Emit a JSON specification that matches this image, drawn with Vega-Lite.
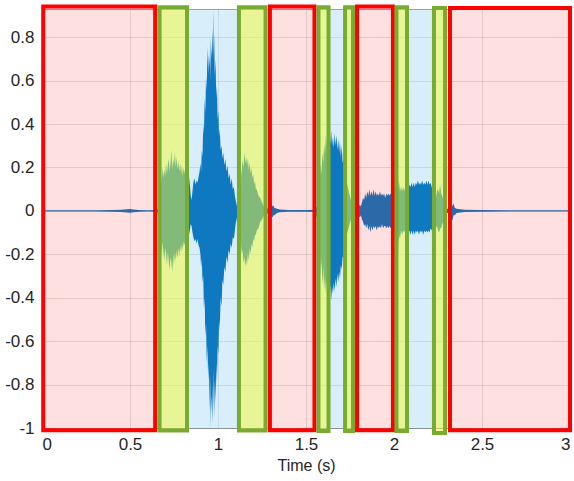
{
  "$schema": "https://vega.github.io/schema/vega-lite/v6.json",
  "width": 528,
  "height": 419,
  "autosize": {"type": "none"},
  "padding": {"left": 42, "top": 9, "right": 4, "bottom": 53},
  "background": "white",
  "config": {
    "view": {"stroke": "#9AA3AC", "strokeWidth": 1},
    "font": "Liberation Sans",
    "axis": {
      "labelFont": "Liberation Sans",
      "titleFont": "Liberation Sans",
      "labelFontSize": 17,
      "titleFontSize": 16,
      "labelColor": "#262626",
      "titleColor": "#262626",
      "titleFontWeight": "normal",
      "gridColor": "#262626",
      "gridOpacity": 0.13,
      "domain": false,
      "ticks": false
    }
  },
  "datasets": {
    "wave": [
      {"t": 0.0, "hi": 0.003, "lo": -0.003},
      {"t": 0.1, "hi": 0.003, "lo": -0.003},
      {"t": 0.2, "hi": 0.003, "lo": -0.003},
      {"t": 0.3, "hi": 0.003, "lo": -0.003},
      {"t": 0.4, "hi": 0.004, "lo": -0.004},
      {"t": 0.45, "hi": 0.005, "lo": -0.005},
      {"t": 0.5, "hi": 0.009, "lo": -0.009},
      {"t": 0.52, "hi": 0.006, "lo": -0.006},
      {"t": 0.55, "hi": 0.004, "lo": -0.004},
      {"t": 0.6, "hi": 0.003, "lo": -0.003},
      {"t": 0.65, "hi": 0.004, "lo": -0.004},
      {"t": 0.66, "hi": 0.01, "lo": -0.01},
      {"t": 0.664, "hi": 0.1, "lo": -0.06},
      {"t": 0.668, "hi": 0.14, "lo": -0.12},
      {"t": 0.672, "hi": 0.1, "lo": -0.09},
      {"t": 0.676, "hi": 0.17, "lo": -0.16},
      {"t": 0.68, "hi": 0.13, "lo": -0.21},
      {"t": 0.685, "hi": 0.2, "lo": -0.14},
      {"t": 0.69, "hi": 0.15, "lo": -0.19},
      {"t": 0.695, "hi": 0.19, "lo": -0.23},
      {"t": 0.7, "hi": 0.16, "lo": -0.17},
      {"t": 0.705, "hi": 0.22, "lo": -0.2},
      {"t": 0.71, "hi": 0.17, "lo": -0.25},
      {"t": 0.715, "hi": 0.21, "lo": -0.19},
      {"t": 0.72, "hi": 0.24, "lo": -0.23},
      {"t": 0.725, "hi": 0.18, "lo": -0.27},
      {"t": 0.73, "hi": 0.22, "lo": -0.21},
      {"t": 0.735, "hi": 0.28, "lo": -0.24},
      {"t": 0.74, "hi": 0.19, "lo": -0.28},
      {"t": 0.745, "hi": 0.24, "lo": -0.2},
      {"t": 0.75, "hi": 0.21, "lo": -0.25},
      {"t": 0.755, "hi": 0.27, "lo": -0.19},
      {"t": 0.76, "hi": 0.2, "lo": -0.23},
      {"t": 0.765, "hi": 0.25, "lo": -0.18},
      {"t": 0.77, "hi": 0.19, "lo": -0.22},
      {"t": 0.775, "hi": 0.23, "lo": -0.17},
      {"t": 0.78, "hi": 0.18, "lo": -0.21},
      {"t": 0.785, "hi": 0.22, "lo": -0.16},
      {"t": 0.79, "hi": 0.17, "lo": -0.19},
      {"t": 0.795, "hi": 0.21, "lo": -0.15},
      {"t": 0.8, "hi": 0.16, "lo": -0.18},
      {"t": 0.805, "hi": 0.2, "lo": -0.14},
      {"t": 0.81, "hi": 0.17, "lo": -0.16},
      {"t": 0.815, "hi": 0.21, "lo": -0.12},
      {"t": 0.82, "hi": 0.18, "lo": -0.14},
      {"t": 0.825, "hi": 0.22, "lo": -0.11},
      {"t": 0.83, "hi": 0.19, "lo": -0.1},
      {"t": 0.835, "hi": 0.16, "lo": -0.11},
      {"t": 0.84, "hi": 0.12, "lo": -0.09},
      {"t": 0.845, "hi": 0.07, "lo": -0.06},
      {"t": 0.85, "hi": 0.05, "lo": -0.07},
      {"t": 0.855, "hi": 0.09, "lo": -0.1},
      {"t": 0.86, "hi": 0.13, "lo": -0.12},
      {"t": 0.866, "hi": 0.15, "lo": -0.14},
      {"t": 0.872, "hi": 0.12, "lo": -0.13},
      {"t": 0.878, "hi": 0.14, "lo": -0.15},
      {"t": 0.884, "hi": 0.13, "lo": -0.13},
      {"t": 0.89, "hi": 0.16, "lo": -0.16},
      {"t": 0.895, "hi": 0.18, "lo": -0.17},
      {"t": 0.9, "hi": 0.22, "lo": -0.2},
      {"t": 0.904, "hi": 0.18, "lo": -0.26},
      {"t": 0.908, "hi": 0.28, "lo": -0.22},
      {"t": 0.912, "hi": 0.25, "lo": -0.33},
      {"t": 0.916, "hi": 0.4, "lo": -0.3},
      {"t": 0.92, "hi": 0.35, "lo": -0.45},
      {"t": 0.924, "hi": 0.52, "lo": -0.4},
      {"t": 0.928, "hi": 0.45, "lo": -0.58},
      {"t": 0.932, "hi": 0.62, "lo": -0.52},
      {"t": 0.936, "hi": 0.55, "lo": -0.7},
      {"t": 0.94, "hi": 0.76, "lo": -0.62},
      {"t": 0.944, "hi": 0.63, "lo": -0.78},
      {"t": 0.948, "hi": 0.72, "lo": -0.7},
      {"t": 0.952, "hi": 0.66, "lo": -0.92},
      {"t": 0.956, "hi": 0.8, "lo": -0.75},
      {"t": 0.958, "hi": 0.6, "lo": -1.0},
      {"t": 0.961, "hi": 0.75, "lo": -0.85},
      {"t": 0.964, "hi": 0.7, "lo": -0.93},
      {"t": 0.967, "hi": 0.84, "lo": -0.8},
      {"t": 0.97, "hi": 0.72, "lo": -0.98},
      {"t": 0.973, "hi": 0.93, "lo": -0.88},
      {"t": 0.975, "hi": 0.7, "lo": -0.72},
      {"t": 0.978, "hi": 0.82, "lo": -0.95},
      {"t": 0.982, "hi": 0.62, "lo": -0.78},
      {"t": 0.986, "hi": 0.7, "lo": -0.88},
      {"t": 0.99, "hi": 0.52, "lo": -0.7},
      {"t": 0.994, "hi": 0.58, "lo": -0.8},
      {"t": 0.998, "hi": 0.42, "lo": -0.62},
      {"t": 1.002, "hi": 0.46, "lo": -0.66},
      {"t": 1.006, "hi": 0.34, "lo": -0.5},
      {"t": 1.01, "hi": 0.38, "lo": -0.55},
      {"t": 1.015, "hi": 0.28, "lo": -0.4},
      {"t": 1.02, "hi": 0.3, "lo": -0.44},
      {"t": 1.025, "hi": 0.24, "lo": -0.32},
      {"t": 1.03, "hi": 0.27, "lo": -0.34},
      {"t": 1.036, "hi": 0.21, "lo": -0.26},
      {"t": 1.042, "hi": 0.24, "lo": -0.28},
      {"t": 1.048, "hi": 0.18, "lo": -0.21},
      {"t": 1.054, "hi": 0.21, "lo": -0.24},
      {"t": 1.06, "hi": 0.15, "lo": -0.18},
      {"t": 1.066, "hi": 0.17, "lo": -0.2},
      {"t": 1.072, "hi": 0.12, "lo": -0.15},
      {"t": 1.078, "hi": 0.15, "lo": -0.17},
      {"t": 1.084, "hi": 0.1, "lo": -0.12},
      {"t": 1.09, "hi": 0.11, "lo": -0.13},
      {"t": 1.096, "hi": 0.07, "lo": -0.09},
      {"t": 1.1, "hi": 0.05, "lo": -0.06},
      {"t": 1.108, "hi": 0.02, "lo": -0.03},
      {"t": 1.115, "hi": 0.03, "lo": -0.04},
      {"t": 1.12, "hi": 0.07, "lo": -0.06},
      {"t": 1.125, "hi": 0.11, "lo": -0.1},
      {"t": 1.13, "hi": 0.15, "lo": -0.14},
      {"t": 1.135, "hi": 0.19, "lo": -0.2},
      {"t": 1.14, "hi": 0.23, "lo": -0.18},
      {"t": 1.145, "hi": 0.2, "lo": -0.24},
      {"t": 1.15, "hi": 0.27, "lo": -0.21},
      {"t": 1.155, "hi": 0.22, "lo": -0.26},
      {"t": 1.16, "hi": 0.25, "lo": -0.22},
      {"t": 1.165, "hi": 0.21, "lo": -0.25},
      {"t": 1.17, "hi": 0.24, "lo": -0.19},
      {"t": 1.175, "hi": 0.19, "lo": -0.23},
      {"t": 1.18, "hi": 0.22, "lo": -0.17},
      {"t": 1.185, "hi": 0.17, "lo": -0.2},
      {"t": 1.19, "hi": 0.2, "lo": -0.15},
      {"t": 1.195, "hi": 0.15, "lo": -0.17},
      {"t": 1.2, "hi": 0.17, "lo": -0.13},
      {"t": 1.205, "hi": 0.12, "lo": -0.14},
      {"t": 1.21, "hi": 0.14, "lo": -0.11},
      {"t": 1.215, "hi": 0.1, "lo": -0.11},
      {"t": 1.22, "hi": 0.1, "lo": -0.09},
      {"t": 1.23, "hi": 0.07, "lo": -0.08},
      {"t": 1.24, "hi": 0.06, "lo": -0.05},
      {"t": 1.25, "hi": 0.04, "lo": -0.04},
      {"t": 1.26, "hi": 0.02, "lo": -0.02},
      {"t": 1.275, "hi": 0.01, "lo": -0.01},
      {"t": 1.29, "hi": 0.015, "lo": -0.015},
      {"t": 1.295, "hi": 0.03, "lo": -0.02},
      {"t": 1.3, "hi": 0.02, "lo": -0.03},
      {"t": 1.305, "hi": 0.035, "lo": -0.025},
      {"t": 1.31, "hi": 0.02, "lo": -0.03},
      {"t": 1.315, "hi": 0.025, "lo": -0.02},
      {"t": 1.32, "hi": 0.015, "lo": -0.02},
      {"t": 1.335, "hi": 0.01, "lo": -0.01},
      {"t": 1.35, "hi": 0.006, "lo": -0.006},
      {"t": 1.4, "hi": 0.004, "lo": -0.004},
      {"t": 1.45, "hi": 0.004, "lo": -0.004},
      {"t": 1.5, "hi": 0.004, "lo": -0.004},
      {"t": 1.55, "hi": 0.005, "lo": -0.005},
      {"t": 1.562, "hi": 0.02, "lo": -0.03},
      {"t": 1.568, "hi": 0.1, "lo": -0.12},
      {"t": 1.573, "hi": 0.18, "lo": -0.22},
      {"t": 1.578, "hi": 0.12, "lo": -0.16},
      {"t": 1.583, "hi": 0.22, "lo": -0.3},
      {"t": 1.588, "hi": 0.17, "lo": -0.22},
      {"t": 1.593, "hi": 0.27, "lo": -0.34},
      {"t": 1.598, "hi": 0.22, "lo": -0.26},
      {"t": 1.603, "hi": 0.31, "lo": -0.36},
      {"t": 1.608, "hi": 0.26, "lo": -0.3},
      {"t": 1.613, "hi": 0.35, "lo": -0.38},
      {"t": 1.618, "hi": 0.29, "lo": -0.32},
      {"t": 1.623, "hi": 0.38, "lo": -0.4},
      {"t": 1.628, "hi": 0.3, "lo": -0.33},
      {"t": 1.633, "hi": 0.36, "lo": -0.39},
      {"t": 1.638, "hi": 0.31, "lo": -0.34},
      {"t": 1.643, "hi": 0.37, "lo": -0.41},
      {"t": 1.648, "hi": 0.3, "lo": -0.35},
      {"t": 1.653, "hi": 0.34, "lo": -0.38},
      {"t": 1.658, "hi": 0.29, "lo": -0.33},
      {"t": 1.663, "hi": 0.36, "lo": -0.37},
      {"t": 1.668, "hi": 0.3, "lo": -0.31},
      {"t": 1.673, "hi": 0.35, "lo": -0.35},
      {"t": 1.678, "hi": 0.28, "lo": -0.29},
      {"t": 1.683, "hi": 0.33, "lo": -0.33},
      {"t": 1.688, "hi": 0.27, "lo": -0.28},
      {"t": 1.693, "hi": 0.32, "lo": -0.31},
      {"t": 1.698, "hi": 0.25, "lo": -0.25},
      {"t": 1.703, "hi": 0.3, "lo": -0.27},
      {"t": 1.708, "hi": 0.22, "lo": -0.21},
      {"t": 1.713, "hi": 0.25, "lo": -0.22},
      {"t": 1.718, "hi": 0.18, "lo": -0.17},
      {"t": 1.723, "hi": 0.2, "lo": -0.16},
      {"t": 1.728, "hi": 0.14, "lo": -0.12},
      {"t": 1.735, "hi": 0.12, "lo": -0.1},
      {"t": 1.745, "hi": 0.08, "lo": -0.07},
      {"t": 1.755, "hi": 0.05, "lo": -0.04},
      {"t": 1.765, "hi": 0.03, "lo": -0.03},
      {"t": 1.775, "hi": 0.01, "lo": -0.01},
      {"t": 1.79, "hi": 0.01, "lo": -0.01},
      {"t": 1.795, "hi": 0.03, "lo": -0.03},
      {"t": 1.8, "hi": 0.02, "lo": -0.025},
      {"t": 1.806, "hi": 0.03, "lo": -0.03},
      {"t": 1.812, "hi": 0.02, "lo": -0.02},
      {"t": 1.818, "hi": 0.04, "lo": -0.04},
      {"t": 1.824, "hi": 0.06, "lo": -0.05},
      {"t": 1.83, "hi": 0.05, "lo": -0.07},
      {"t": 1.836, "hi": 0.08, "lo": -0.06},
      {"t": 1.842, "hi": 0.06, "lo": -0.08},
      {"t": 1.848, "hi": 0.09, "lo": -0.06},
      {"t": 1.854, "hi": 0.07, "lo": -0.09},
      {"t": 1.86, "hi": 0.1, "lo": -0.07},
      {"t": 1.866, "hi": 0.07, "lo": -0.1},
      {"t": 1.872, "hi": 0.09, "lo": -0.07},
      {"t": 1.878, "hi": 0.07, "lo": -0.09},
      {"t": 1.884, "hi": 0.1, "lo": -0.07},
      {"t": 1.89, "hi": 0.07, "lo": -0.08},
      {"t": 1.896, "hi": 0.09, "lo": -0.07},
      {"t": 1.902, "hi": 0.07, "lo": -0.09},
      {"t": 1.908, "hi": 0.08, "lo": -0.07},
      {"t": 1.914, "hi": 0.07, "lo": -0.08},
      {"t": 1.92, "hi": 0.09, "lo": -0.07},
      {"t": 1.926, "hi": 0.07, "lo": -0.08},
      {"t": 1.932, "hi": 0.08, "lo": -0.06},
      {"t": 1.938, "hi": 0.07, "lo": -0.08},
      {"t": 1.944, "hi": 0.08, "lo": -0.07},
      {"t": 1.95, "hi": 0.06, "lo": -0.07},
      {"t": 1.956, "hi": 0.08, "lo": -0.08},
      {"t": 1.962, "hi": 0.07, "lo": -0.07},
      {"t": 1.968, "hi": 0.08, "lo": -0.08},
      {"t": 1.974, "hi": 0.07, "lo": -0.07},
      {"t": 1.98, "hi": 0.08, "lo": -0.08},
      {"t": 1.986, "hi": 0.07, "lo": -0.07},
      {"t": 1.992, "hi": 0.08, "lo": -0.08},
      {"t": 1.998, "hi": 0.09, "lo": -0.09},
      {"t": 2.004, "hi": 0.12, "lo": -0.12},
      {"t": 2.01, "hi": 0.09, "lo": -0.15},
      {"t": 2.016, "hi": 0.17, "lo": -0.1},
      {"t": 2.022, "hi": 0.1, "lo": -0.19},
      {"t": 2.028, "hi": 0.14, "lo": -0.11},
      {"t": 2.034, "hi": 0.09, "lo": -0.13},
      {"t": 2.04, "hi": 0.11, "lo": -0.09},
      {"t": 2.046, "hi": 0.09, "lo": -0.11},
      {"t": 2.052, "hi": 0.11, "lo": -0.09},
      {"t": 2.058, "hi": 0.09, "lo": -0.1},
      {"t": 2.064, "hi": 0.11, "lo": -0.08},
      {"t": 2.07, "hi": 0.1, "lo": -0.1},
      {"t": 2.076, "hi": 0.12, "lo": -0.09},
      {"t": 2.082, "hi": 0.1, "lo": -0.1},
      {"t": 2.088, "hi": 0.12, "lo": -0.09},
      {"t": 2.094, "hi": 0.11, "lo": -0.11},
      {"t": 2.1, "hi": 0.13, "lo": -0.09},
      {"t": 2.106, "hi": 0.11, "lo": -0.11},
      {"t": 2.112, "hi": 0.13, "lo": -0.09},
      {"t": 2.118, "hi": 0.11, "lo": -0.11},
      {"t": 2.124, "hi": 0.13, "lo": -0.09},
      {"t": 2.13, "hi": 0.12, "lo": -0.1},
      {"t": 2.136, "hi": 0.14, "lo": -0.09},
      {"t": 2.142, "hi": 0.12, "lo": -0.11},
      {"t": 2.148, "hi": 0.13, "lo": -0.09},
      {"t": 2.154, "hi": 0.12, "lo": -0.1},
      {"t": 2.16, "hi": 0.14, "lo": -0.09},
      {"t": 2.166, "hi": 0.12, "lo": -0.11},
      {"t": 2.172, "hi": 0.13, "lo": -0.09},
      {"t": 2.178, "hi": 0.12, "lo": -0.1},
      {"t": 2.184, "hi": 0.14, "lo": -0.09},
      {"t": 2.19, "hi": 0.12, "lo": -0.1},
      {"t": 2.196, "hi": 0.14, "lo": -0.09},
      {"t": 2.202, "hi": 0.12, "lo": -0.1},
      {"t": 2.208, "hi": 0.13, "lo": -0.08},
      {"t": 2.214, "hi": 0.11, "lo": -0.09},
      {"t": 2.22, "hi": 0.1, "lo": -0.07},
      {"t": 2.226, "hi": 0.06, "lo": -0.06},
      {"t": 2.232, "hi": 0.08, "lo": -0.07},
      {"t": 2.238, "hi": 0.06, "lo": -0.08},
      {"t": 2.244, "hi": 0.09, "lo": -0.07},
      {"t": 2.25, "hi": 0.1, "lo": -0.09},
      {"t": 2.256, "hi": 0.08, "lo": -0.1},
      {"t": 2.262, "hi": 0.12, "lo": -0.08},
      {"t": 2.268, "hi": 0.08, "lo": -0.08},
      {"t": 2.274, "hi": 0.07, "lo": -0.06},
      {"t": 2.28, "hi": 0.05, "lo": -0.05},
      {"t": 2.29, "hi": 0.02, "lo": -0.03},
      {"t": 2.3, "hi": 0.01, "lo": -0.01},
      {"t": 2.32, "hi": 0.01, "lo": -0.01},
      {"t": 2.326, "hi": 0.04, "lo": -0.03},
      {"t": 2.332, "hi": 0.02, "lo": -0.045},
      {"t": 2.338, "hi": 0.035, "lo": -0.02},
      {"t": 2.345, "hi": 0.015, "lo": -0.02},
      {"t": 2.355, "hi": 0.01, "lo": -0.01},
      {"t": 2.4, "hi": 0.005, "lo": -0.005},
      {"t": 2.5, "hi": 0.004, "lo": -0.004},
      {"t": 2.7, "hi": 0.003, "lo": -0.003},
      {"t": 3.0, "hi": 0.003, "lo": -0.003}
    ],
    "blue": [
      {"x0": 0.643, "x1": 1.295, "y0": -1, "y1": 0.93},
      {"x0": 1.548, "x1": 1.79, "y0": -1, "y1": 0.93},
      {"x0": 1.994, "x1": 2.318, "y0": -1, "y1": 0.93}
    ],
    "red": [
      {"x0": 0.007, "x1": 0.643, "y0": -1.01, "y1": 0.942},
      {"x0": 1.295, "x1": 1.548, "y0": -1.01, "y1": 0.942},
      {"x0": 1.79, "x1": 1.994, "y0": -1.01, "y1": 0.942},
      {"x0": 2.318, "x1": 3.0, "y0": -1.01, "y1": 0.935}
    ],
    "green": [
      {"x0": 0.668, "x1": 0.824, "y0": -1.012, "y1": 0.938},
      {"x0": 1.119, "x1": 1.27, "y0": -1.012, "y1": 0.938},
      {"x0": 1.571, "x1": 1.628, "y0": -1.014, "y1": 0.938},
      {"x0": 1.722, "x1": 1.767, "y0": -1.014, "y1": 0.938},
      {"x0": 2.014, "x1": 2.074, "y0": -1.014, "y1": 0.938},
      {"x0": 2.227, "x1": 2.29, "y0": -1.023, "y1": 0.935}
    ]
  },
  "layer": [
    {
      "data": {"name": "blue"},
      "mark": {"type": "rect", "fill": "#63BBEB", "fillOpacity": 0.25, "strokeWidth": 0},
      "encoding": {
        "x": {"field": "x0", "type": "quantitative",
              "scale": {"domain": [0, 3], "nice": false, "zero": false},
              "axis": {"values": [0, 0.5, 1, 1.5, 2, 2.5, 3], "title": "Time (s)", "labelPadding": 8, "titlePadding": 5, "grid": true,
                       "labelExpr": "toString(datum.value)"}},
        "x2": {"field": "x1"},
        "y": {"field": "y0", "type": "quantitative",
              "scale": {"domain": [-1, 0.93], "nice": false, "zero": false},
              "axis": {"values": [-1, -0.8, -0.6, -0.4, -0.2, 0, 0.2, 0.4, 0.6, 0.8], "title": null, "labelPadding": 8, "grid": true,
                       "labelExpr": "toString(datum.value)"}},
        "y2": {"field": "y1"}
      }
    },
    {
      "data": {"name": "wave"},
      "mark": {"type": "area", "color": "#0E78C0", "interpolate": "linear"},
      "encoding": {
        "x": {"field": "t", "type": "quantitative"},
        "y": {"field": "hi", "type": "quantitative"},
        "y2": {"field": "lo"}
      }
    },
    {
      "data": {"name": "red"},
      "mark": {"type": "rect", "fill": "#FF0000", "fillOpacity": 0.12, "stroke": "#FF0000", "strokeOpacity": 1, "strokeWidth": 4},
      "encoding": {
        "x": {"field": "x0", "type": "quantitative"},
        "x2": {"field": "x1"},
        "y": {"field": "y0", "type": "quantitative"},
        "y2": {"field": "y1"}
      }
    },
    {
      "data": {"name": "green"},
      "mark": {"type": "rect", "fill": "#F5FC34", "fillOpacity": 0.5, "stroke": "#77AC30", "strokeOpacity": 1, "strokeWidth": 4},
      "encoding": {
        "x": {"field": "x0", "type": "quantitative"},
        "x2": {"field": "x1"},
        "y": {"field": "y0", "type": "quantitative"},
        "y2": {"field": "y1"}
      }
    }
  ]
}
